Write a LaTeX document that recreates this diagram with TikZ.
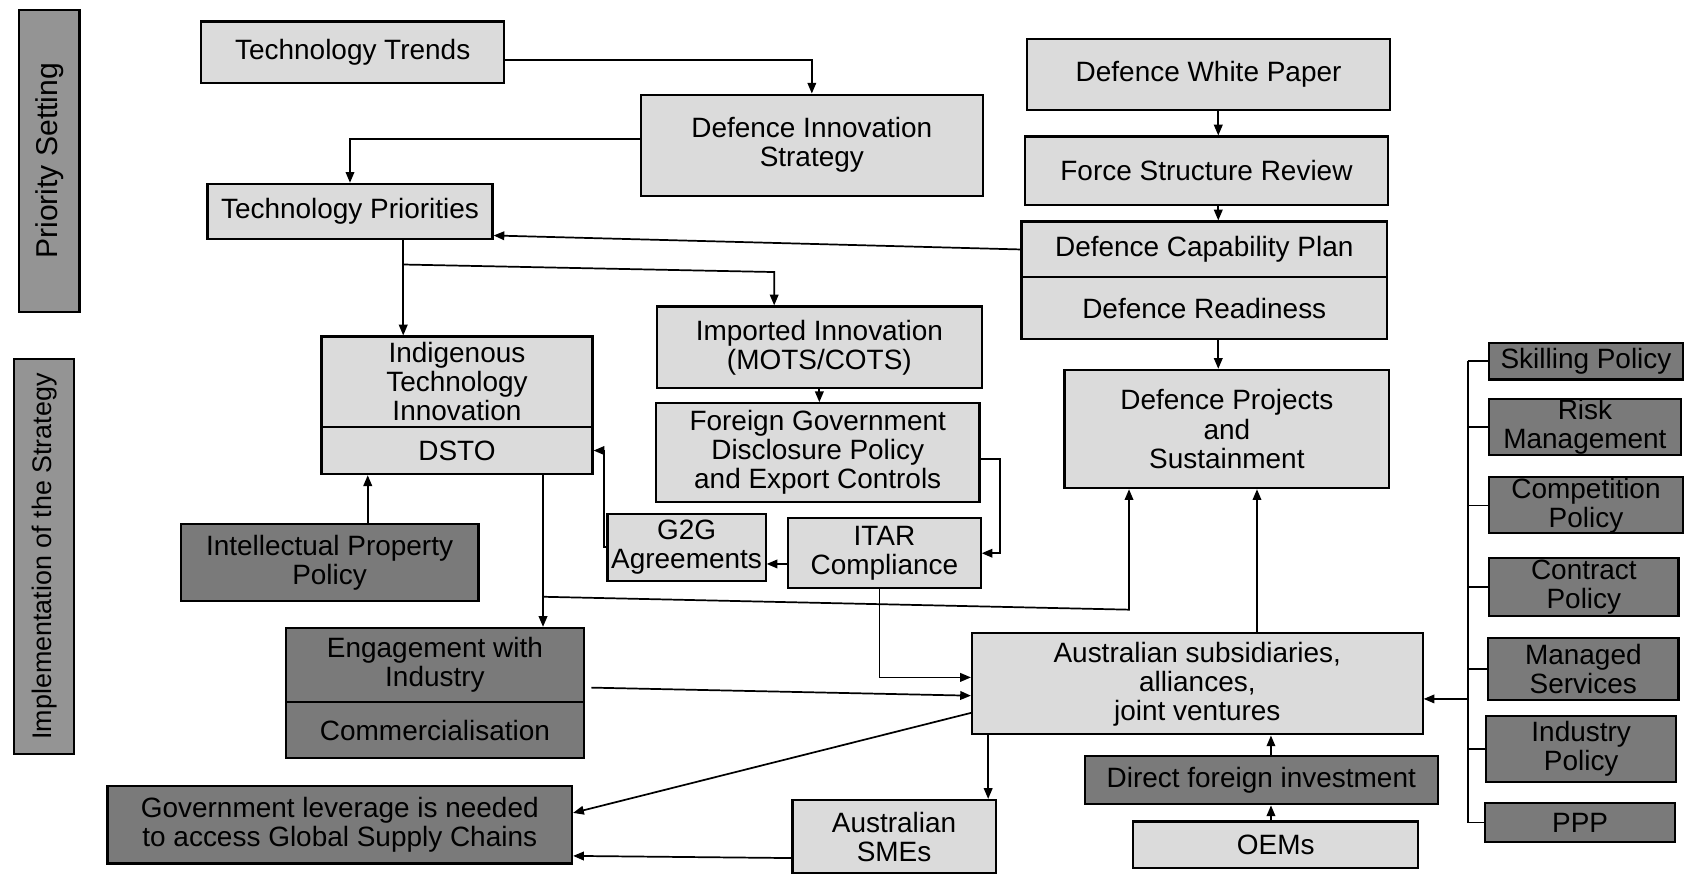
\documentclass[tikz,border=0pt]{standalone}
\usepackage{fontspec}
\setmainfont{Liberation Sans}
\usetikzlibrary{arrows.meta,calc}
\begin{document}
\begin{tikzpicture}[x=1pt,y=-1pt,
  base/.style={draw=black, line width=2pt, inner sep=0pt, anchor=north west, align=center, font=\fontsize{26}{27}\selectfont},
  lite/.style={base, fill=black!14},
  dark/.style={base, fill=black!52},
  side/.style={base, fill=black!42},
  conn/.style={line width=1.6pt},
  arr/.style={conn, -{Triangle[length=10pt,width=8pt]}}]
\useasboundingbox (0,0) rectangle (1568,813);
% side labels
\node[side, minimum width=56pt, minimum height=281pt, font=\fontsize{28}{29}\selectfont] (ps) at (17,8) {\rotatebox{90}{Priority Setting}};
\node[side, minimum width=56pt, minimum height=367pt, font=\fontsize{25}{26}\selectfont] (is) at (12,333) {\rotatebox{90}{Implementation of the Strategy}};
% priority setting
\node[lite, minimum width=282pt, minimum height=57pt] (tt) at (186,19) {Technology Trends};
\node[lite, minimum width=318pt, minimum height=94pt] (dis) at (595,87) {Defence Innovation\\Strategy};
\node[lite, minimum width=265pt, minimum height=51pt] (tp) at (192,170) {Technology Priorities};
\node[lite, minimum width=338pt, minimum height=66pt] (dwp) at (954,35) {Defence White Paper};
\node[lite, minimum width=338pt, minimum height=64pt] (fsr) at (952,126) {Force Structure Review};
\node[lite, minimum width=340pt, minimum height=52pt] (dcp) at (949,205) {Defence Capability Plan};
\node[lite, minimum width=340pt, minimum height=57pt] (dr) at (949,257) {Defence Readiness};
% implementation
\node[lite, minimum width=252pt, minimum height=84pt] (iti) at (298,312) {Indigenous\\Technology\\Innovation};
\node[lite, minimum width=252pt, minimum height=44pt] (dsto) at (298,396) {DSTO};
\node[lite, minimum width=302pt, minimum height=76pt] (ii) at (610,284) {Imported Innovation\\(MOTS/COTS)};
\node[lite, minimum width=301pt, minimum height=92pt] (fgd) at (609,374) {Foreign Government\\Disclosure Policy\\and Export Controls};
\node[lite, minimum width=302pt, minimum height=110pt] (dp) at (989,343) {Defence Projects\\and\\Sustainment};
\node[lite, minimum width=147pt, minimum height=62pt] (g2g) at (564,477) {G2G\\Agreements};
\node[lite, minimum width=179pt, minimum height=65pt] (itar) at (732,481) {ITAR\\Compliance};
\node[dark, minimum width=277pt, minimum height=72pt] (ipp) at (167,486) {Intellectual Property\\Policy};
\node[dark, minimum width=277pt, minimum height=69pt] (ewi) at (265,583) {Engagement with\\Industry};
\node[dark, minimum width=277pt, minimum height=52pt] (com) at (265,652) {Commercialisation};
\node[lite, minimum width=419pt, minimum height=94pt] (aus) at (903,588) {Australian subsidiaries,\\alliances,\\joint ventures};
\node[dark, minimum width=432pt, minimum height=72pt] (gov) at (99,730) {Government leverage is needed\\to access Global Supply Chains};
\node[lite, minimum width=189pt, minimum height=68pt] (sme) at (736,743) {Australian\\SMEs};
\node[dark, minimum width=328pt, minimum height=45pt] (dfi) at (1008,702) {Direct foreign investment};
\node[lite, minimum width=265pt, minimum height=43pt] (oem) at (1053,763) {OEMs};
% right column
\node[dark, minimum width=180pt, minimum height=34pt] (skp) at (1384,318) {Skilling Policy};
\node[dark, minimum width=178pt, minimum height=52pt] (rsk) at (1384,370) {Risk\\Management};
\node[dark, minimum width=180pt, minimum height=52pt] (cmp) at (1384,443) {Competition\\Policy};
\node[dark, minimum width=176pt, minimum height=54pt] (ctr) at (1384,518) {Contract\\Policy};
\node[dark, minimum width=177pt, minimum height=58pt] (mgs) at (1383,592) {Managed\\Services};
\node[dark, minimum width=177pt, minimum height=61pt] (ind) at (1381,665) {Industry\\Policy};
\node[dark, minimum width=177pt, minimum height=36pt] (ppp) at (1380,746) {PPP};
% helper coordinates
\coordinate (xTP) at (375,0);
\coordinate (xII) at (720,0);
\coordinate (xDef) at (1133,0);
\coordinate (xIP) at (342,0);
\coordinate (xDS) at (505,0);
\coordinate (xDP) at (1050,0);
\coordinate (xIT) at (818,0);
\coordinate (xSM) at (919,0);
\coordinate (xAU) at (1169,0);
\coordinate (xDF) at (1182,0);
\coordinate (xBus) at (1365,0);
\coordinate (y246) at (0,246);
\coordinate (y253) at (0,253);
\coordinate (y555) at (0,555);
\coordinate (y567) at (0,567);
\coordinate (y630) at (0,630);
\coordinate (y647) at (0,647);
\coordinate (y650) at (0,650);
\coordinate (y663) at (0,663);
\coordinate (y756) at (0,756);
\coordinate (y796) at (0,796);
\coordinate (y798) at (0,798);
% connectors
\draw[arr] ($(tt.east)+(0,7)$) -| (dis.north);
\draw[arr] ($(dis.west)+(0,-6)$) -| (tp.north);
\draw[arr] (dcp.west) -- ($(tp.south east)+(0,-4)$);
\draw[arr] (tp.south -| xTP) -- (xTP |- iti.north);
\draw[arr] (xTP |- y246) -- (xII |- y253) -- (xII |- ii.north);
\draw[arr] (dwp.south -| xDef) -- (xDef |- fsr.north);
\draw[arr] (fsr.south -| xDef) -- (xDef |- dcp.north);
\draw[arr] (dr.south -| xDef) -- (xDef |- dp.north);
\draw[arr] (ii.south) -- (ii.south |- fgd.north);
\draw[arr] ($(fgd.east)+(0,6)$) -| ($(itar.east)+(17,0)$) -- (itar.east);
\coordinate (ia) at ($(itar.west)+(0,10)$);
\draw[arr] (ia) -- (ia -| g2g.east);
\draw[arr] (g2g.west) -| ($(dsto.east)+(10,0)$) -- (dsto.east);
\draw[arr] (ipp.north -| xIP) -- (xIP |- dsto.south);
\draw[arr] (dsto.south -| xDS) -- (xDS |- ewi.north);
\draw[arr] (xDS |- y555) -- (xDP |- y567) -- (xDP |- dp.south);
\draw[arr] (itar.south -| xIT) |- (aus.west |- y630);
\draw[arr] ($(ewi.east)+(6,21)$) -- (aus.west |- y647);
\draw[arr] (aus.west |- y663) -- (gov.east |- y756);
\draw[arr] (sme.west |- y798) -- (gov.east |- y796);
\draw[arr] (aus.south -| xSM) -- (xSM |- sme.north);
\draw[arr] (aus.north -| xAU) -- (xAU |- dp.south);
\draw[arr] (dfi.north -| xDF) -- (xDF |- aus.south);
\draw[arr] (oem.north -| xDF) -- (xDF |- dfi.south);
\draw[conn] (xBus |- skp.west) -- (xBus |- ppp.west);
\foreach \n in {skp,rsk,cmp,ctr,mgs,ind,ppp} \draw[conn] (xBus |- \n.west) -- (\n.west);
\draw[arr] (xBus |- y650) -- (aus.east |- y650);
\end{tikzpicture}
\end{document}
